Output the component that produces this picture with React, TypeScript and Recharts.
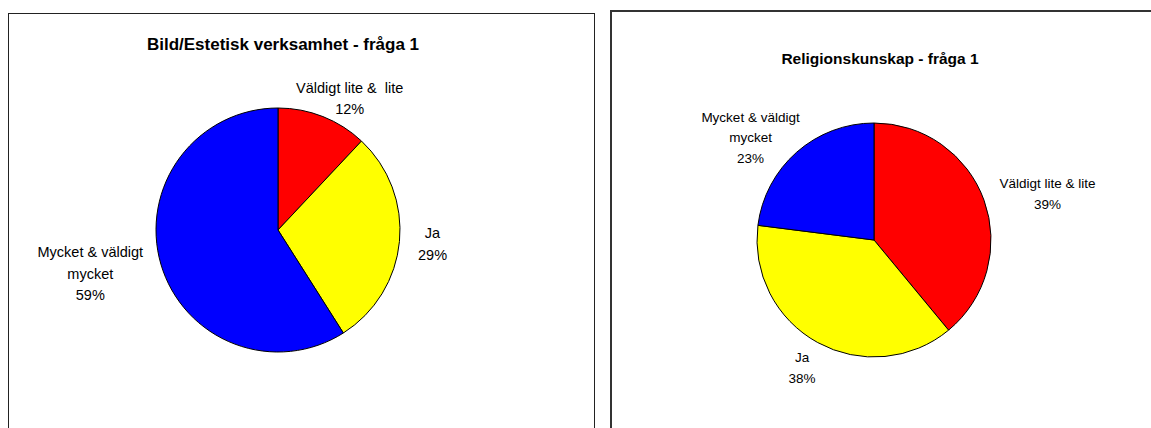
import React from "react";
import { PieChart, Pie, Cell } from "recharts";

const categories = ["Väldigt lite & lite", "Ja", "Mycket & väldigt mycket"];
const colors = ["#FF0000", "#FFFF00", "#0000FF"];

const leftTitle = "Bild/Estetisk verksamhet - fråga 1";
const leftValues = [12, 29, 59];
const leftLabelLines = [["Väldigt lite &  lite"], ["Ja"], ["Mycket & väldigt", "mycket"]];

const rightTitle = "Religionskunskap - fråga 1";
const rightValues = [39, 38, 23];
const rightLabelLines = [["Väldigt lite & lite"], ["Ja"], ["Mycket & väldigt", "mycket"]];

const leftData = categories.map((name, i) => ({ name, value: leftValues[i] }));
const rightData = categories.map((name, i) => ({ name, value: rightValues[i] }));

const FONT = "'Liberation Sans', Arial, sans-serif";

// rough Arial advance widths (em)
const charWidth = (ch: string) => {
  if ("iljI.,' |".includes(ch)) return 0.24;
  if ("tfr".includes(ch)) return 0.31;
  if ("mwMW%".includes(ch)) return 0.86;
  if ("&VAK".includes(ch)) return 0.67;
  return 0.55;
};
const textWidth = (t: string, fs: number) =>
  t.split("").reduce((a, ch) => a + charWidth(ch), 0) * fs;

const makeLabel =
  (lines: string[][], gap: number, fontSize: number, lh: number) => (props: any) => {
    const { cx, cy, midAngle, outerRadius, index, percent } = props;
    const RAD = Math.PI / 180;
    const c = Math.cos(midAngle * RAD);
    const s = Math.sin(midAngle * RAD);
    const px = cx + (outerRadius + gap) * c;
    const py = cy - (outerRadius + gap) * s;
    const textLines = [...lines[index], `${Math.round(percent * 100)}%`];
    const w = Math.max(...textLines.map((l) => textWidth(l, fontSize)));
    const h = textLines.length * lh;
    const bx = px + (c * w) / 2;
    const by = s < 0 ? py - s * h * 0.25 : py;
    const top = by - h / 2;
    return (
      <text
        x={bx}
        y={top}
        textAnchor="middle"
        fontFamily={FONT}
        fontSize={fontSize}
        fill="#000"
        style={{ whiteSpace: "pre" }}
      >
        {textLines.map((t, i) => (
          <tspan key={i} x={bx} y={top + lh * (i + 0.72)}>
            {t}
          </tspan>
        ))}
      </text>
    );
  };

const titleStyle: React.CSSProperties = {
  position: "absolute",
  textAlign: "center",
  fontFamily: FONT,
  fontWeight: "bold",
  color: "#000",
  whiteSpace: "nowrap",
};

export default function App() {
  return (
    <div
      style={{
        position: "fixed",
        left: 0,
        top: 0,
        width: 1151,
        height: 428,
        overflow: "hidden",
        background: "#fff",
      }}
    >
      <div
        style={{
          position: "absolute",
          left: 8,
          top: 13,
          width: 587,
          height: 440,
          border: "1px solid #222",
          boxSizing: "border-box",
        }}
      >
        <div style={{ ...titleStyle, top: 21, left: 0, width: 548, fontSize: 17 }}>{leftTitle}</div>
        <div style={{ position: "absolute", left: 0, top: 0 }}>
          <PieChart width={585} height={438}>
            <Pie
              data={leftData}
              dataKey="value"
              nameKey="name"
              cx={264}
              cy={211}
              outerRadius={122}
              startAngle={90}
              endAngle={-270}
              stroke="#000"
              strokeWidth={1}
              isAnimationActive={false}
              labelLine={false}
              label={makeLabel(leftLabelLines, 19, 14.5, 21.5)}
            >
              {leftData.map((d, i) => (
                <Cell key={d.name} fill={colors[i]} />
              ))}
            </Pie>
          </PieChart>
        </div>
      </div>
      <div
        style={{
          position: "absolute",
          left: 610,
          top: 10,
          width: 541,
          height: 440,
          borderTop: "2px solid #333",
          borderLeft: "2px solid #333",
          borderBottom: "2px solid #333",
          boxSizing: "border-box",
        }}
      >
        <div style={{ ...titleStyle, top: 38, left: 0, width: 536, fontSize: 15.5 }}>{rightTitle}</div>
        <div style={{ position: "absolute", left: 0, top: 0 }}>
          <PieChart width={539} height={436}>
            <Pie
              data={rightData}
              dataKey="value"
              nameKey="name"
              cx={257}
              cy={223}
              outerRadius={117}
              startAngle={90}
              endAngle={-270}
              stroke="#000"
              strokeWidth={1}
              isAnimationActive={false}
              labelLine={false}
              label={makeLabel(rightLabelLines, 19, 13.5, 20.5)}
            >
              {rightData.map((d, i) => (
                <Cell key={d.name} fill={colors[i]} />
              ))}
            </Pie>
          </PieChart>
        </div>
      </div>
    </div>
  );
}
